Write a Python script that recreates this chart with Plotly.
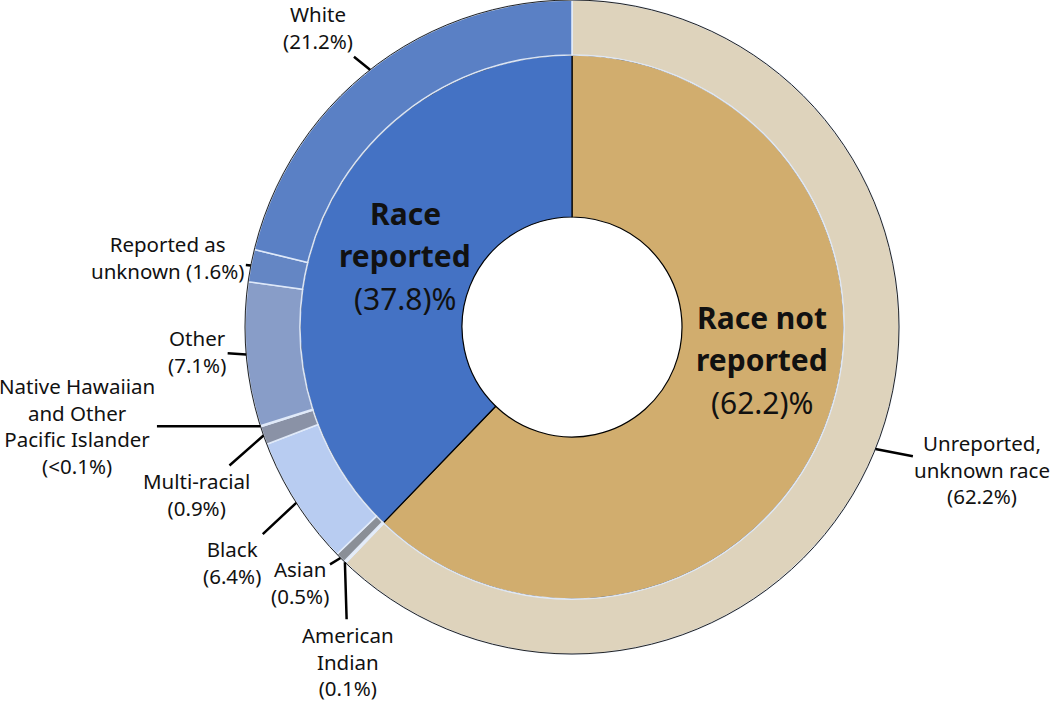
import math
import plotly.graph_objects as go

# ---- data ----
inner_labels = ["Race reported", "Race not reported"]
inner_values = [37.8, 62.2]
inner_colors = ["#4472C4", "#D1AD6E"]

outer_labels = ["White", "Reported as unknown", "Other",
                "Native Hawaiian and Other Pacific Islander", "Multi-racial",
                "Black", "Asian", "American Indian", "Unreported, unknown race"]
outer_values = [21.2, 1.6, 7.1, 0.05, 0.9, 6.4, 0.5, 0.1, 62.2]
outer_text = ["White<br>(21.2%)", "Reported as<br>unknown (1.6%)", "Other<br>(7.1%)",
              "Native Hawaiian<br>and Other<br>Pacific Islander<br>(<0.1%)",
              "Multi-racial<br>(0.9%)", "Black<br>(6.4%)", "Asian<br>(0.5%)",
              "American<br>Indian<br>(0.1%)", "Unreported,<br>unknown race<br>(62.2%)"]
outer_colors = ["#5A80C5", "#6486C4", "#889DC8", "#8E97AA", "#8A92A6",
                "#B8CCF1", "#8A8F97", "#F4F1EA", "#DED3BC"]

# ---- geometry (pixels) ----
W, H = 1050, 702
CX, CY = 572, 327          # centre, from top-left
R_OUT, R_MID, R_HOLE = 327, 272, 110

# label text offsets from the arrow tip (pixels)
offsets = [(-52, -42), (-83, -8), (-49, -3), (-183, 0), (-67, 59),
           (-64, 60), (-41, 25), (3, 99), (107, 21)]


def domain(r):
    yc = H - CY
    return dict(x=[(CX - r) / W, (CX + r) / W], y=[(yc - r) / H, (yc + r) / H])


fig = go.Figure()

# slices run counterclockwise from 12 o'clock in the original; plotly's clockwise
# mode starts cleanly at 12 o'clock, so feed the lists reversed
fig.add_trace(go.Pie(
    labels=inner_labels[::-1], values=inner_values[::-1], sort=False,
    direction="clockwise", hole=R_HOLE / R_MID, domain=domain(R_MID),
    textinfo="none", showlegend=False,
    marker=dict(colors=inner_colors[::-1], line=dict(color="black", width=1.2)),
))
# outer ring drawn after, its light seam hides the black arc of the inner ring
fig.add_trace(go.Pie(
    labels=outer_labels[::-1], values=outer_values[::-1], sort=False,
    direction="clockwise", hole=R_MID / R_OUT, domain=domain(R_OUT),
    textinfo="none", showlegend=False,
    marker=dict(colors=outer_colors[::-1], line=dict(color="rgba(225,235,250,0.95)", width=1.6)),
))
# thin black rim around the outer ring
fig.add_trace(go.Pie(
    values=[1], hole=0, domain=domain(R_OUT), textinfo="none", showlegend=False,
    hoverinfo="skip", marker=dict(colors=["rgba(0,0,0,0)"], line=dict(color="#222", width=1)),
))

font = dict(family="Noto Sans", color="#111")

# outer labels with leader lines pointing at the slice mid-angle on the rim
total = sum(outer_values)
cum = 0
for val, txt, (ax, ay) in zip(outer_values, outer_text, offsets):
    mid = (cum + val / 2) / total * 2 * math.pi
    cum += val
    px = CX - R_OUT * math.sin(mid)
    py = CY - R_OUT * math.cos(mid)
    fig.add_annotation(
        x=px / W, y=1 - py / H, xref="paper", yref="paper",
        text=txt, showarrow=True, arrowhead=0, arrowwidth=2.5, arrowcolor="black",
        ax=ax, ay=ay, font=dict(size=20.5, **font), align="center",
    )

# centre labels, one line per annotation for the wider line spacing
centre_lines = [
    (405, 213, ["<b>Race</b>", "<b>reported</b>", "(%.1f)%%" % inner_values[0]]),
    (762, 317, ["<b>Race not</b>", "<b>reported</b>", "(%.1f)%%" % inner_values[1]]),
]
for x0, y0, lines in centre_lines:
    for i, line in enumerate(lines):
        fig.add_annotation(
            x=x0 / W, y=1 - (y0 + 42.5 * i) / H, xref="paper", yref="paper",
            xanchor="center", yanchor="middle",
            showarrow=False, text=line, font=dict(size=30, **font),
        )

fig.update_layout(
    width=W, height=H, margin=dict(l=0, r=0, t=0, b=0),
    paper_bgcolor="white", plot_bgcolor="white",
)

# drop the browser's default 8px body margin so the figure fills the window
fig.write_html("out.html", config={"displayModeBar": False},
               post_script="document.body.style.margin='0';")
